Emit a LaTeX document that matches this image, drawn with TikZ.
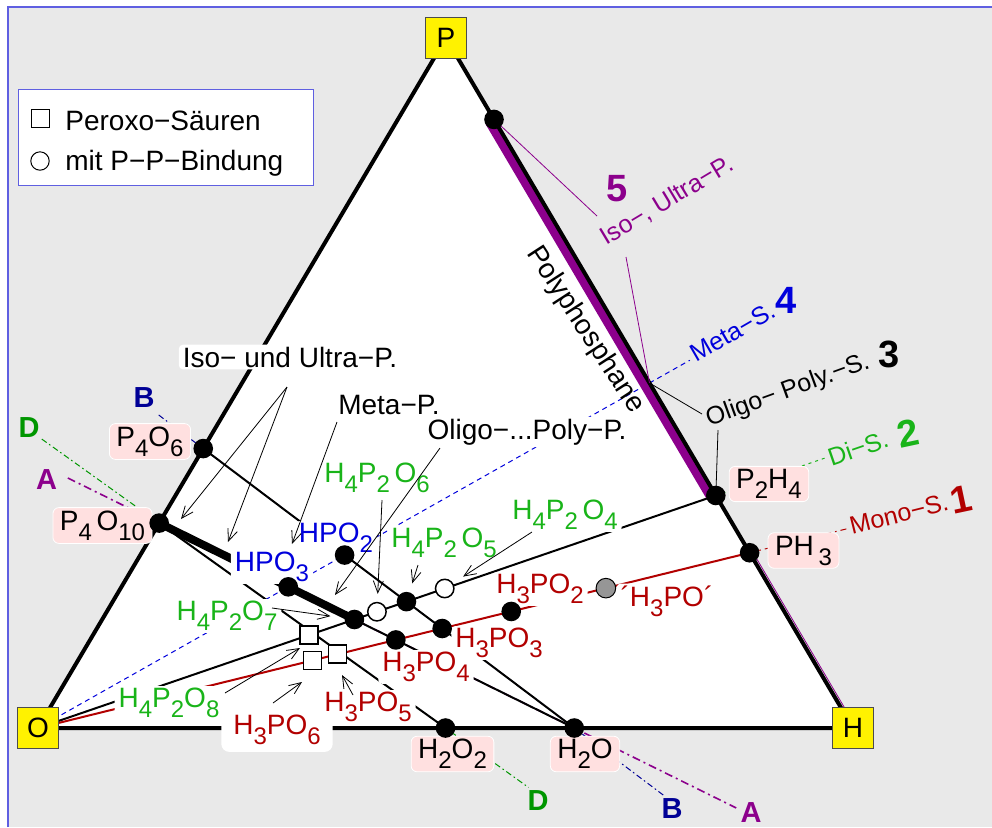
\documentclass[tikz,border=0pt]{standalone}
\usepackage{fontspec}
\setmainfont{Liberation Sans}
\usepackage{xcolor}
\usetikzlibrary{calc, arrows.meta}

\definecolor{bggray}{RGB}{233,233,233}
\definecolor{frameblue}{RGB}{95,95,225}
\definecolor{pinkbox}{RGB}{255,224,224}
\definecolor{monored}{RGB}{178,0,0}
\definecolor{digreen}{RGB}{25,180,25}
\definecolor{dgreen}{RGB}{0,150,0}
\definecolor{metablue}{RGB}{0,0,220}
\definecolor{navyblue}{RGB}{0,0,150}
\definecolor{isopurple}{RGB}{140,0,140}
\definecolor{dotgray}{RGB}{150,150,150}

\newcommand{\su}[1]{\raisebox{-5pt}{\fontsize{12}{12}\selectfont #1}}

\begin{document}
\begin{tikzpicture}[x=0.5pt, y=-0.5pt, >={Straight Barb[length=6pt, width=5pt]},
  every node/.style={font=\fontsize{14}{16}\selectfont},
  vertex/.style={draw=black!70, fill=yellow, minimum size=20.5pt, inner sep=0pt},
  dot/.style={circle, fill=black, minimum size=9.8pt, inner sep=0pt},
  ring/.style={circle, draw, fill=white, line width=0.75pt, minimum size=9.2pt, inner sep=0pt},
  peroxo/.style={draw, fill=white, line width=0.75pt, minimum size=9pt, inner sep=0pt},
  chem/.style={fill=white, rounded corners=2pt, inner xsep=2pt, inner ysep=1pt},
  pinkchem/.style={fill=pinkbox, draw=white, rounded corners=3pt, inner xsep=3.5pt, inner ysep=1.5pt},
  series/.style={font=\fontsize{12.5}{14}\selectfont, inner sep=1pt},
  num/.style={font=\fontsize{19}{20}\selectfont\bfseries, inner sep=0pt},
  ends/.style={font=\fontsize{14.5}{16}\selectfont\bfseries, inner sep=0pt},
  arr/.style={->, line width=0.4pt},
  leader/.style={line width=0.4pt}]

  \useasboundingbox (0,0) rectangle (992,827);
  \fill[bggray] (8,7) rectangle (992,827);
  \draw[frameblue, line width=0.7pt] (8,827) -- (8,7) -- (992,7);

  \coordinate (O) at (38,728);
  \coordinate (P) at (446,38);
  \coordinate (H) at (853,728);
  \coordinate (P4O6) at ($(O)!0.405!(P)$);
  \coordinate (P4O10) at ($(O)!0.297!(P)$);
  \coordinate (H2O2) at ($(O)!0.5!(H)$);
  \coordinate (H2O) at ($(O)!0.658!(H)$);
  \coordinate (PtopH) at ($(P)!0.118!(H)$);
  \coordinate (M) at ($(P)!0.5!(H)$);
  \coordinate (P2H4) at ($(P)!0.663!(H)$);
  \coordinate (PH3) at ($(P)!0.746!(H)$);

  \coordinate (HPO3) at (intersection of P4O10--H2O and O--M);
  \coordinate (HPO2) at (intersection of P4O6--H2O and O--M);
  \coordinate (H4P2O7) at (intersection of P4O10--H2O and O--P2H4);
  \coordinate (H4P2O5) at (intersection of P4O6--H2O and O--P2H4);
  \coordinate (H3PO4) at (intersection of P4O10--H2O and O--PH3);
  \coordinate (H3PO3) at (intersection of P4O6--H2O and O--PH3);
  \coordinate (H4P2O8) at ($(O)!0.4!(P2H4)$);
  \coordinate (H4P2O6) at ($(O)!0.5!(P2H4)$);
  \coordinate (H4P2O4) at ($(O)!0.6!(P2H4)$);
  \coordinate (H3PO6) at ($(O)!0.386!(PH3)$);
  \coordinate (H3PO5) at ($(O)!0.421!(PH3)$);
  \coordinate (H3PO2) at ($(O)!0.665!(PH3)$);
  \coordinate (H3PO) at ($(O)!0.798!(PH3)$);

  \coordinate (A1) at ($(P4O10)!-0.22!(H2O)$);
  \coordinate (A2) at ($(P4O10)!1.39!(H2O)$);
  \coordinate (B1) at ($(P4O6)!-0.12!(H2O)$);
  \coordinate (B2) at ($(P4O6)!1.24!(H2O)$);
  \coordinate (D1) at ($(P4O10)!-0.41!(H2O2)$);
  \coordinate (D2) at ($(P4O10)!1.29!(H2O2)$);
  \coordinate (monoEnd) at ($(O)!1.139!(PH3)$);
  \coordinate (diEnd) at ($(O)!1.166!(P2H4)$);
  \coordinate (metaEnd) at ($(O)!1.066!(M)$);

  \fill[white] (O) -- (P) -- (H) -- cycle;

  \draw[isopurple, line width=0.8pt, dash pattern=on 4pt off 2pt on 1pt off 2pt] (A1) -- (A2);
  \draw[navyblue, line width=0.5pt, dash pattern=on 3pt off 1.5pt on 0.8pt off 1.5pt] (B1) -- (B2);
  \draw[dgreen, line width=0.5pt, dash pattern=on 3pt off 1.5pt on 0.8pt off 1.5pt] (D1) -- (D2);
  \draw[monored, line width=0.5pt, dash pattern=on 3pt off 2pt on 0.8pt off 2pt] (PH3) -- (monoEnd);
  \draw[digreen, line width=0.5pt, dash pattern=on 1.5pt off 2pt] (P2H4) -- (diEnd);
  \draw[metablue, line width=0.5pt, dash pattern=on 2.5pt off 2pt] (O) -- (metaEnd);

  \draw[isopurple, line width=4.5pt] ([shift={(-4.5,2.6)}]PtopH) -- ([shift={(-4.5,2.6)}]P2H4);
  \draw[isopurple, line width=0.4pt] ([shift={(3.5,0)}]PH3) -- ([shift={(3.5,0)}]H);

  \draw[line width=1pt] (P4O6) -- (H2O);
  \draw[line width=1pt] (P4O10) -- (H2O);
  \draw[line width=1pt] (P4O10) -- (H2O2);
  \draw[line width=4pt] (P4O10) -- (H4P2O7);
  \draw[line width=1pt] (O) -- (P2H4);
  \draw[monored, line width=1pt] (O) -- (PH3);
  \draw[line width=2pt] (O) -- (P) -- (H) -- cycle;

  \coordinate (isoA) at (597,216);
  \coordinate (isoB) at (626,257);
  \coordinate (oligoA) at (702,414);
  \coordinate (oligoB) at (718,430);
  \draw[isopurple, leader] (PtopH) -- (isoA);
  \draw[isopurple, leader] (isoB) -- (M);
  \draw[leader] (oligoA) -- (M);
  \draw[leader] (oligoB) -- (P2H4);

  \node[chem] (lIso) at (290,357) {Iso− und Ultra−P.};
  \node[chem] (lMetaP) at (389,405) {Meta−P.};
  \node[chem] (lOligoP) at (527,432) {Oligo−...Poly−P.};
  \node[chem, text=digreen] (lH4P2O6) at (377,478) {H\su{4}P\su{2}\,O\su{6}};
  \node[chem, text=digreen] (lH4P2O5) at (444,543) {H\su{4}P\su{2}\,O\su{5}};
  \node[chem, text=digreen] (lH4P2O4) at (565,515) {H\su{4}P\su{2}\,O\su{4}};
  \node[chem, text=digreen] (lH4P2O7) at (227,616) {H\su{4}P\su{2}O\su{7}};
  \node[chem, text=digreen] (lH4P2O8) at (169,703) {H\su{4}P\su{2}O\su{8}};
  \node[chem, text=metablue] (lHPO2) at (336,538) {HPO\su{2}};
  \node[chem, text=metablue] (lHPO3) at (272,567) {HPO\su{3}};
  \node[chem, text=monored, inner xsep=6pt, inner ysep=3.5pt, rounded corners=4pt] (lH3PO6) at (277,730) {H\su{3}PO\su{6}};
  \node[chem, text=monored] (lH3PO5) at (368,707) {H\su{3}PO\su{5}};
  \node[chem, text=monored] (lH3PO3) at (499,643) {H\su{3}PO\su{3}};
  \node[chem, text=monored] (lH3PO4) at (426,667) {H\su{3}PO\su{4}};
  \node[chem, text=monored] (lH3PO2) at (540,589) {H\su{3}PO\su{2}};
  \node[chem, text=monored] (lH3PO) at (667,601) {´H\su{3}PO´};

  \node[pinkchem] (lP4O6) at (150,441.5) {P\su{4}O\su{6}};
  \node[pinkchem] (lP4O10) at (102.5,525.5) {P\su{4}\,O\su{10}};
  \node[pinkchem] (lP2H4) at (769,484) {P\su{2}H\su{4}};
  \node[pinkchem] (lPH3) at (803.5,550.5) {PH\,\su{3}};
  \node[pinkchem] (lH2O2) at (452.5,754) {H\su{2}O\su{2}};
  \node[pinkchem] (lH2O) at (585,754) {H\su{2}O};

  \node[rotate=-57] (lPoly) at (585,330) {Polyphosphane};
  \node[series, text=isopurple, rotate=31] (lIsoS) at (667,201) {Iso−, Ultra−P.};
  \node[series, text=metablue, rotate=30] (lMetaS) at (733,332) {Meta−S.};
  \node[series, rotate=20] (lOligoS) at (788,391) {Oligo− Poly.−S.};
  \node[series, text=digreen, rotate=19] (lDiS) at (858,448) {Di−S.};
  \node[series, text=monored, rotate=14] (lMonoS) at (899,514) {Mono−S.};
  \node[num, text=isopurple] (n5) at (617.5,188.5) {5};
  \node[num, text=metablue] (n4) at (786,300) {4};
  \node[num] (n3) at (889.5,354.5) {3};
  \node[num, text=digreen, rotate=12] (n2) at (908,433) {2};
  \node[num, text=monored, rotate=12] (n1) at (961,500) {1};
  \node[ends, text=isopurple] (endA1) at (46.5,480) {A};
  \node[ends, text=navyblue] (endB1) at (144,398) {B};
  \node[ends, text=dgreen] (endD1) at (29,428) {D};
  \node[ends, text=dgreen] (endD2) at (538,801) {D};
  \node[ends, text=navyblue] (endB2) at (672,809) {B};
  \node[ends, text=isopurple] (endA2) at (751,813) {A};

  \node[dot] (dP4O6) at (P4O6) {};
  \node[dot] (dP4O10) at (P4O10) {};
  \node[dot] (dH2O2) at (H2O2) {};
  \node[dot] (dH2O) at (H2O) {};
  \node[dot] (dPtopH) at (PtopH) {};
  \node[dot] (dP2H4) at (P2H4) {};
  \node[dot] (dPH3) at (PH3) {};
  \node[dot] (dHPO3) at (HPO3) {};
  \node[dot] (dHPO2) at (HPO2) {};
  \node[dot] (dH4P2O7) at (H4P2O7) {};
  \node[dot] (dH4P2O5) at (H4P2O5) {};
  \node[dot] (dH3PO4) at (H3PO4) {};
  \node[dot] (dH3PO3) at (H3PO3) {};
  \node[dot] (dH3PO2) at (H3PO2) {};
  \node[dot, fill=dotgray, draw=black, line width=0.5pt] (gH3PO) at (H3PO) {};
  \node[ring] (rH4P2O6) at (H4P2O6) {};
  \node[ring] (rH4P2O4) at (H4P2O4) {};
  \node[peroxo] (sH4P2O8) at (H4P2O8) {};
  \node[peroxo] (sH3PO6) at (H3PO6) {};
  \node[peroxo] (sH3PO5) at (H3PO5) {};

  \coordinate (isoFrom) at (287,387);
  \coordinate (isoTo1) at (181,519);
  \coordinate (isoTo2) at (228,542);
  \coordinate (metaFrom) at (337,422);
  \coordinate (metaTo) at (292,544);
  \coordinate (oligoFrom) at (440,448);
  \coordinate (oligoTo) at (335,595);
  \coordinate (from6) at (382,500);
  \coordinate (from5) at (418,565);
  \coordinate (from4) at (532,532);
  \coordinate (from7) at (272,608);
  \coordinate (from8) at (225,693);
  \coordinate (to8) at (300,648);
  \coordinate (fromPO6) at (273,703);
  \coordinate (toPO6) at (302,682);
  \coordinate (fromPO5) at (353,695);
  \coordinate (toPO5) at (342,675);

  \draw[arr] (isoFrom) -- (isoTo1);
  \draw[arr] (isoFrom) -- (isoTo2);
  \draw[arr] (metaFrom) -- (metaTo);
  \draw[arr] (oligoFrom) -- (oligoTo);
  \draw[arr, shorten >=4pt] (from6) -- (rH4P2O6);
  \draw[arr, shorten >=4.5pt] (from5) -- (dH4P2O5);
  \draw[arr, shorten >=6pt] (from4) -- (rH4P2O4);
  \draw[arr, shorten >=7pt] (from7) -- (dH4P2O7);
  \draw[arr] (from8) -- (to8);
  \draw[arr] (fromPO6) -- (toPO6);
  \draw[arr] (fromPO5) -- (toPO5);

  \node[vertex] (vO) at (O) {O};
  \node[vertex] (vP) at (P) {P};
  \node[vertex] (vH) at (H) {H};

  \node[draw=frameblue, fill=white, line width=0.7pt, anchor=north west, minimum width=147.5pt, minimum height=48pt, inner sep=0pt] (legend) at (18,89) {};
  \node[peroxo, line width=0.5pt] (legSquare) at (40,118) {};
  \node[ring, line width=0.5pt] (legRing) at (40,161) {};
  \node[anchor=base west, inner sep=0pt] (legPeroxo) at (65,130) {Peroxo−Säuren};
  \node[anchor=base west, inner sep=0pt] (legPP) at (65,170) {mit P−P−Bindung};
\end{tikzpicture}
\end{document}
